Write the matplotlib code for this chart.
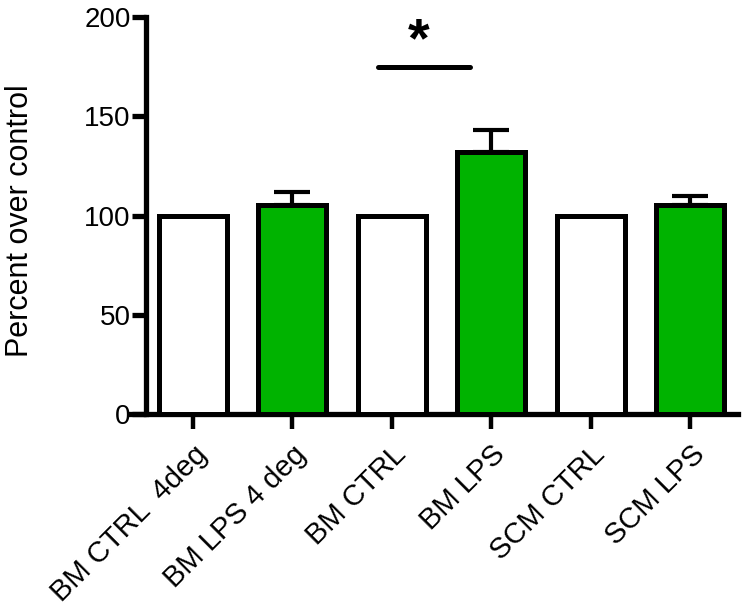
import matplotlib.pyplot as plt
import numpy as np

plt.rcParams['font.family'] = ['Liberation Sans', 'DejaVu Sans']

labels = ['BM CTRL  4deg', 'BM LPS 4 deg', 'BM CTRL', 'BM LPS', 'SCM CTRL', 'SCM LPS']
values = [100, 105.5, 100, 132, 100, 105.5]
errors = [0, 6.5, 0, 11, 0, 4.5]
colors = ['white', '#00b300', 'white', '#00b300', 'white', '#00b300']
sig_y = 175
sig_span = [1.86, 2.79]

fig = plt.figure(figsize=(7.47, 6.08), dpi=100)
ax = fig.add_axes([0.174, 0.319, 0.814, 0.653])

x = np.arange(len(labels))
for i in x:
    if errors[i] > 0:
        ax.errorbar(x[i], values[i], yerr=[[0], [errors[i]]], fmt='none',
                    ecolor='black', elinewidth=3, capsize=13, capthick=3, zorder=2)
ax.bar(x, values, width=0.68, color=colors, edgecolor='black', linewidth=3.6, zorder=3)

ax.plot(sig_span, [sig_y, sig_y], color='black', lw=3.6, solid_capstyle='round')
ax.text(np.mean(sig_span) - 0.05, sig_y - 1, '*', ha='center', va='bottom',
        fontsize=40, fontweight='bold')

ax.set_xlim(-0.63, 5.48)
ax.set_ylim(0, 200)
ax.spines['top'].set_visible(False)
ax.spines['right'].set_visible(False)
ax.spines['left'].set_position(('data', -0.47))
for s in ['left', 'bottom']:
    ax.spines[s].set_linewidth(3.8)
ax.set_yticks([0, 50, 100, 150, 200])
ax.tick_params(axis='y', length=10, width=3.8, labelsize=20, pad=1)
ax.tick_params(axis='x', length=11, width=3.2, labelsize=21, pad=8)
ax.set_xticks(x)
ax.set_xticklabels(labels, rotation=45, ha='right', rotation_mode='anchor')
ax.set_ylabel('Percent over control', fontsize=22)
ax.yaxis.set_label_coords(-0.157, 0.486)

fig.savefig('out.png', dpi=100)
